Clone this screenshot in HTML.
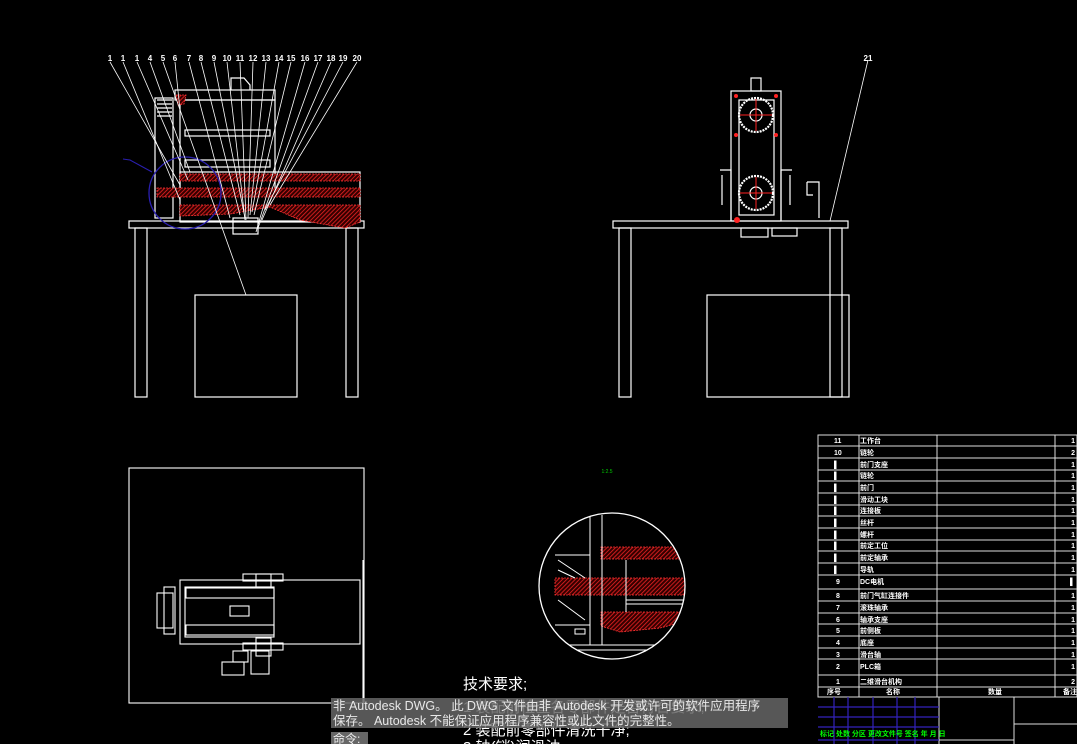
<!DOCTYPE html>
<html><head><meta charset="utf-8"><style>
body{margin:0;background:#000;width:1077px;height:744px;overflow:hidden}
svg{display:block}
text{font-family:"Liberation Sans","Noto Sans CJK SC",sans-serif}
</style></head><body>
<svg width="1077" height="744" viewBox="0 0 1077 744" xmlns="http://www.w3.org/2000/svg">
<defs>
<pattern id="h" width="3" height="3" patternUnits="userSpaceOnUse" patternTransform="rotate(45)">
<rect width="3" height="3" fill="#300"/><line x1="0" y1="0" x2="0" y2="3" stroke="#e22" stroke-width="1.6"/>
</pattern>
</defs>
<g stroke="#fff" fill="none" stroke-width="1.2">
<rect x="129" y="221" width="235" height="7"/>
<rect x="135" y="228" width="12" height="169"/>
<rect x="346" y="228" width="12" height="169"/>
<rect x="195" y="295" width="102" height="102"/>
<rect x="155" y="98" width="18" height="120"/>
<path d="M157 100H172M157 104H172M157 108H172M157 112H172M157 116H172"/>
<rect x="175" y="90" width="100" height="10"/>
<rect x="180" y="100" width="95" height="90"/>
<rect x="185" y="130" width="85" height="6"/>
<rect x="185" y="160" width="85" height="7"/>
<path d="M231 90 V78 H244 L250 85 V90"/>
<rect x="180" y="172" width="180" height="50"/>
<rect x="233" y="218" width="25" height="16"/>
</g>
<g fill="url(#h)" stroke="#f33" stroke-width="0.8" stroke-dasharray="2 1">
<rect x="180" y="174" width="180" height="7"/>
<rect x="157" y="188" width="203" height="9"/>
<path d="M180 205 H360 V222 L345 228 L300 220 L270 207 L230 214 L180 216 Z"/>
<path d="M176 95 L186 95 L184 104 L178 105 Z"/>
</g>
<circle cx="185" cy="193" r="36" stroke="#2a1fb0" stroke-width="1.3" fill="none"/>
<path d="M123 159 L130 160 L152 172" stroke="#2a1fb0" fill="none"/>
<g stroke="#fff" stroke-width="0.8">
<line x1="110" y1="62" x2="180" y2="185"/><line x1="123" y1="62" x2="180" y2="200"/>
<line x1="137" y1="62" x2="188" y2="180"/><line x1="150" y1="62" x2="190" y2="172"/>
<line x1="163" y1="62" x2="246" y2="295"/><line x1="175" y1="62" x2="180" y2="110"/>
<line x1="189" y1="62" x2="230" y2="218"/><line x1="201" y1="62" x2="240" y2="215"/>
<line x1="214" y1="62" x2="245" y2="218"/><line x1="227" y1="62" x2="245" y2="220"/>
<line x1="240" y1="62" x2="246" y2="220"/><line x1="253" y1="62" x2="248" y2="218"/>
<line x1="266" y1="62" x2="250" y2="215"/><line x1="279" y1="62" x2="252" y2="212"/>
<line x1="291" y1="62" x2="254" y2="215"/><line x1="305" y1="62" x2="256" y2="232"/>
<line x1="318" y1="62" x2="258" y2="228"/><line x1="331" y1="62" x2="262" y2="220"/>
<line x1="343" y1="62" x2="265" y2="210"/><line x1="357" y1="62" x2="270" y2="205"/>
<line x1="868" y1="60" x2="830" y2="221"/>
</g>
<g fill="#fff" font-size="8" font-weight="bold" text-anchor="middle">
<text x="110" y="61">1</text><text x="123" y="61">1</text><text x="137" y="61">1</text><text x="150" y="61">4</text><text x="163" y="61">5</text><text x="175" y="61">6</text><text x="189" y="61">7</text><text x="201" y="61">8</text><text x="214" y="61">9</text><text x="227" y="61">10</text><text x="240" y="61">11</text><text x="253" y="61">12</text><text x="266" y="61">13</text><text x="279" y="61">14</text><text x="291" y="61">15</text><text x="305" y="61">16</text><text x="318" y="61">17</text><text x="331" y="61">18</text><text x="343" y="61">19</text><text x="357" y="61">20</text><text x="868" y="61">21</text>
</g>
<g stroke="#fff" fill="none" stroke-width="1.2">
<rect x="613" y="221" width="235" height="7"/>
<rect x="619" y="228" width="12" height="169"/>
<rect x="830" y="228" width="12" height="169"/>
<rect x="707" y="295" width="142" height="102"/>
<rect x="731" y="91" width="50" height="130"/>
<rect x="751" y="78" width="10" height="13"/>
<rect x="739" y="100" width="35" height="115"/>
<circle cx="756" cy="115" r="17" stroke-dasharray="2 1" stroke-width="2.2"/>
<circle cx="756" cy="193" r="17" stroke-dasharray="2 1" stroke-width="2.2"/>
<circle cx="756" cy="115" r="6"/><circle cx="756" cy="193" r="6"/>
<path d="M720 170 H731 V221 M722 175 V205 M792 170 H781 V221 M790 175 V205"/>
<path d="M807 182 H819 V218 M807 182 V195 H813"/>
<rect x="741" y="228" width="27" height="9"/><rect x="772" y="228" width="25" height="8"/>
</g>
<g stroke="#f22" stroke-width="1">
<path d="M740 115 H772 M756 99 V131 M740 193 H772 M756 177 V209"/>
</g>
<g fill="#f22"><circle cx="736" cy="96" r="2"/><circle cx="776" cy="96" r="2"/><circle cx="736" cy="135" r="2"/><circle cx="776" cy="135" r="2"/><circle cx="737" cy="220" r="3"/></g>
<g stroke="#fff" fill="none" stroke-width="1.1">
<rect x="129" y="468" width="235" height="235"/>
<rect x="180" y="580" width="180" height="64"/>
<rect x="185" y="587" width="89" height="50"/>
<rect x="186" y="588" width="88" height="10"/><rect x="186" y="625" width="88" height="10"/>
<rect x="157" y="593" width="16" height="35"/>
<rect x="164" y="587" width="11" height="47"/>
<rect x="243" y="574" width="40" height="7"/><rect x="256" y="574" width="15" height="13"/>
<rect x="243" y="643" width="40" height="7"/><rect x="256" y="638" width="15" height="18"/>
<rect x="230" y="606" width="19" height="10"/>
<rect x="222" y="662" width="22" height="13"/><rect x="233" y="651" width="15" height="11"/>
<rect x="251" y="651" width="18" height="23"/>
<line x1="363" y1="560" x2="363" y2="703"/>
</g>
<clipPath id="c"><circle cx="612" cy="586" r="73"/></clipPath>
<g clip-path="url(#c)">
<g fill="url(#h)" stroke="#f33" stroke-width="0.8" stroke-dasharray="2 1">
<rect x="601" y="547" width="80" height="12"/>
<rect x="555" y="578" width="130" height="17"/>
<path d="M601 612 H690 V620 L660 628 L620 632 L601 626 Z"/>
</g>
<g stroke="#fff" fill="none" stroke-width="1">
<path d="M555 555 H590 V625 H555 M590 515 V645 M602 515 V645 M555 645 H690 M570 650 H690 M626 560 V612 M626 600 H690 M626 604 H690"/>
<path d="M558 560 L585 578 M558 570 L575 578 M558 600 L585 620" />
<rect x="575" y="629" width="10" height="5"/>
</g>
</g>
<circle cx="612" cy="586" r="73" stroke="#fff" fill="none" stroke-width="1.3"/>
<text x="607" y="473" fill="#0c0" font-size="5" text-anchor="middle">1:2.5</text>
<g stroke="#ddd" stroke-width="1" fill="none">
<rect x="818" y="435" width="259" height="262"/>
<line x1="859" y1="435" x2="859" y2="697"/><line x1="937" y1="435" x2="937" y2="697"/><line x1="1055" y1="435" x2="1055" y2="697"/>
<path d="M818 446H1077M818 458H1077M818 470H1077M818 481H1077M818 493H1077M818 505H1077M818 516H1077M818 528H1077M818 540H1077M818 551H1077M818 563H1077M818 575H1077M818 589H1077M818 601H1077M818 613H1077M818 624H1077M818 636H1077M818 648H1077M818 659H1077M818 675H1077M818 687H1077"/>
<path d="M939 697V744M1014 697V744M1014 724H1077M939 740H1014"/>
</g>
<g stroke="#3322bb" stroke-width="1.2">
<path d="M818 707H939M818 717H939M818 727H939M818 740H939M834 697V744M848 697V744M873 697V744M897 697V744M915 697V744"/>
</g>
<g fill="#fff" font-size="7" font-weight="bold">
<text x="834" y="443">11</text><text x="834" y="455">10</text><text x="834" y="467">▌</text><text x="834" y="478">▌</text><text x="834" y="490">▌</text><text x="834" y="502">▌</text><text x="834" y="513">▌</text><text x="834" y="525">▌</text><text x="834" y="537">▌</text><text x="834" y="548">▌</text><text x="834" y="560">▌</text><text x="834" y="572">▌</text>
<text x="836" y="584">9</text><text x="836" y="598">8</text><text x="836" y="610">7</text><text x="836" y="622">6</text><text x="836" y="633">5</text><text x="836" y="645">4</text><text x="836" y="657">3</text><text x="836" y="669">2</text><text x="836" y="684">1</text>
<text x="860" y="443">工作台</text><text x="860" y="455">链轮</text><text x="860" y="467">前门支座</text><text x="860" y="478">链轮</text><text x="860" y="490">前门</text><text x="860" y="502">滑动工块</text><text x="860" y="513">连接板</text><text x="860" y="525">丝杆</text><text x="860" y="537">螺杆</text><text x="860" y="548">前定工位</text><text x="860" y="560">前定轴承</text><text x="860" y="572">导轨</text>
<text x="860" y="584">DC电机</text><text x="860" y="598">前门气缸连接件</text><text x="860" y="610">滚珠轴承</text><text x="860" y="622">轴承支座</text><text x="860" y="633">前侧板</text><text x="860" y="645">底座</text><text x="860" y="657">滑台轴</text><text x="860" y="669">PLC箱</text><text x="860" y="684">二维滑台机构</text>
<text x="827" y="694">序号</text><text x="886" y="694">名称</text><text x="988" y="694">数量</text><text x="1063" y="694">备注</text>
</g>
<g fill="#fff" font-size="7" font-weight="bold" text-anchor="end">
<text x="1075" y="443">1</text><text x="1075" y="455">2</text><text x="1075" y="467">1</text><text x="1075" y="478">1</text><text x="1075" y="490">1</text><text x="1075" y="502">1</text><text x="1075" y="513">1</text><text x="1075" y="525">1</text><text x="1075" y="537">1</text><text x="1075" y="548">1</text><text x="1075" y="560">1</text><text x="1075" y="572">1</text><text x="1075" y="584">▌</text><text x="1075" y="598">1</text><text x="1075" y="610">1</text><text x="1075" y="622">1</text><text x="1075" y="633">1</text><text x="1075" y="645">1</text><text x="1075" y="657">1</text><text x="1075" y="669">1</text><text x="1075" y="684">2</text>
</g>
<text x="820" y="736" fill="#0f0" font-size="7" font-weight="bold">标记 处数 分区 更改文件号 签名 年 月 日</text>
<g fill="#fff" font-size="15">
<text x="463" y="689">技术要求;</text>
<text x="463" y="712">1 装配前检查各零部件是否符合要求;</text>
<text x="463" y="735">2 装配前零部件清洗干净;</text>
<text x="463" y="752">3 轴(销)润滑油</text>
</g>
<rect x="331" y="698" width="457" height="30" fill="#666" opacity="0.85"/>
<g fill="#e8e8e8" font-size="12.5" style="font-family:'Liberation Mono','Noto Sans CJK SC',monospace">
<text x="333" y="710">非 Autodesk DWG。 此 DWG 文件由非 Autodesk 开发或许可的软件应用程序</text>
<text x="333" y="725">保存。 Autodesk 不能保证应用程序兼容性或此文件的完整性。</text>
</g>
<rect x="331" y="732" width="37" height="12" fill="#666"/>
<text x="333" y="743" fill="#eee" font-size="12">命令:</text>
</svg>
</body></html>
